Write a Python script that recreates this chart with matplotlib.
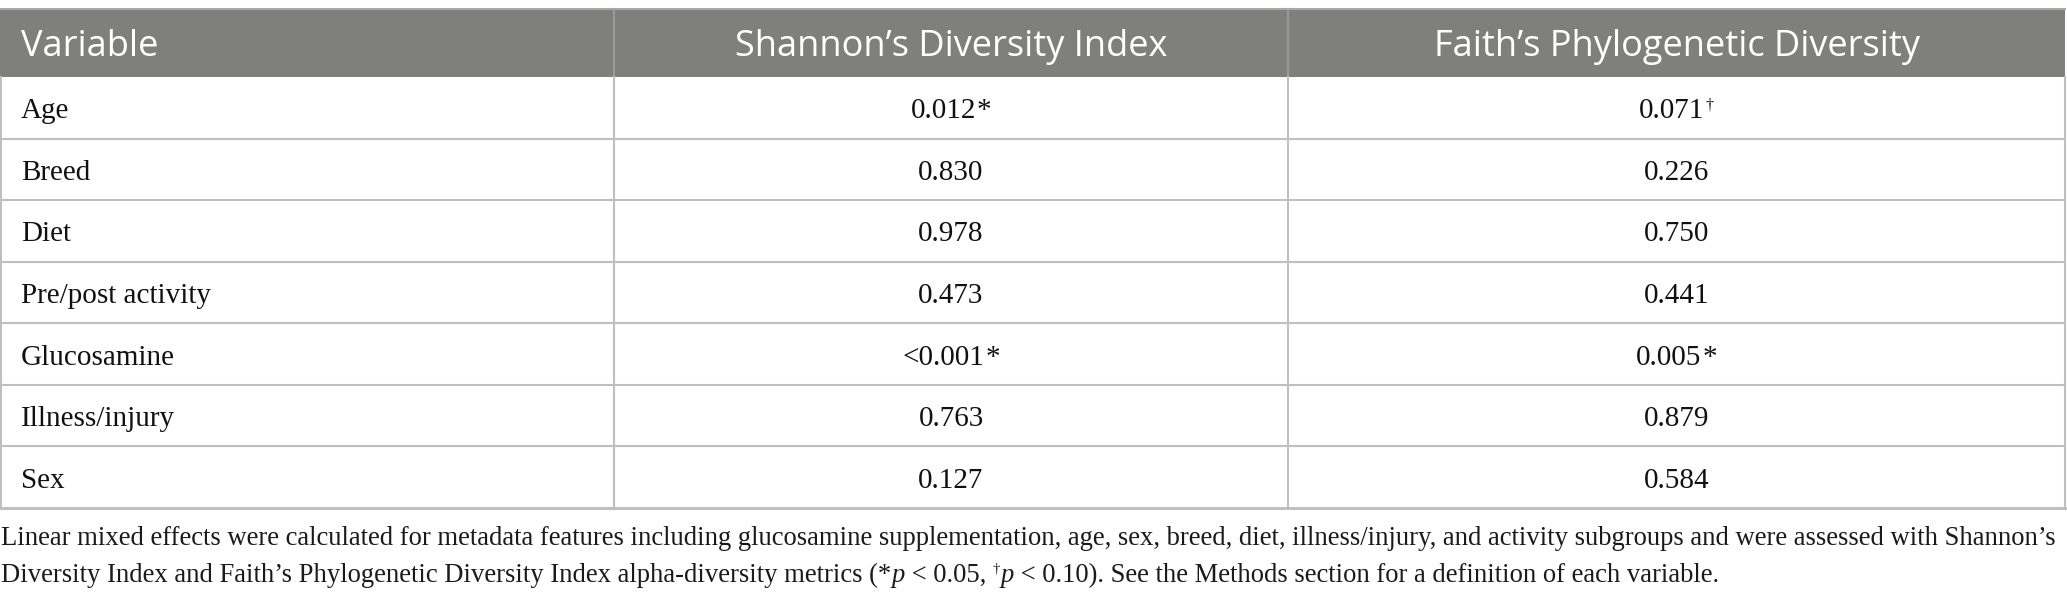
import matplotlib
matplotlib.use("Agg")
import matplotlib.pyplot as plt
from matplotlib.patches import Rectangle

# ---- data ----
headers = ["Variable", "Shannon\u2019s Diversity Index", "Faith\u2019s Phylogenetic Diversity"]
variables = ["Age", "Breed", "Diet", "Pre/post activity", "Glucosamine", "Illness/injury", "Sex"]
shannon = ["0.012", "0.830", "0.978", "0.473", "<0.001", "0.763", "0.127"]
shannon_mark = ["*", "", "", "", "*", "", ""]
faith = ["0.071", "0.226", "0.750", "0.441", "0.005", "0.879", "0.584"]
faith_mark = ["\u2020", "", "", "", "*", "", ""]
caption_line1 = ("Linear mixed effects were calculated for metadata features including glucosamine "
                 "supplementation, age, sex, breed, diet, illness/injury, and activity subgroups and "
                 "were assessed with Shannon\u2019s")
# (text, style, superscript)
caption_line2_parts = [
    ("Diversity Index and Faith\u2019s Phylogenetic Diversity Index alpha-diversity metrics (*", "normal", False),
    ("p", "italic", False),
    (" < 0.05, ", "normal", False),
    ("\u2020", "normal", True),
    ("p", "italic", False),
    (" < 0.10). See the Methods section for a definition of each variable.", "normal", False),
]

W, H = 2067, 604
fig = plt.figure(figsize=(W / 100, H / 100), dpi=100)
ax = fig.add_axes([0, 0, 1, 1])
ax.set_xlim(0, W)
ax.set_ylim(H, 0)
ax.axis("off")

col_x = [0, 614, 1288, 2065]
header_top, header_bot = 9, 77
n = len(variables)
row_h = (508 - 77) / n
grid_c = "#bfbfbf"
head_c = "#7f807e"
txt_c = "#111111"
serif = "Liberation Serif"
sans = "Open Sans"
cell_fs = 21
head_fs = 26

fig.canvas.draw()
renderer = fig.canvas.get_renderer()

def width_px(t):
    return t.get_window_extent(renderer).width

ax.add_patch(Rectangle((col_x[0], header_top), col_x[-1] - col_x[0], header_bot - header_top,
                       facecolor=head_c, edgecolor="none", zorder=1))
for x in col_x[1:-1]:
    ax.plot([x, x], [header_top, header_bot], color="#9a9a9a", lw=1.5, zorder=2)
ax.plot([col_x[0], col_x[-1]], [header_top, header_top], color="#a8a8a8", lw=1.5, zorder=2)

hbase = 56
ax.text(21, hbase, headers[0], ha="left", va="baseline", color="white", fontsize=head_fs, family=sans, zorder=3)
ax.text((col_x[1] + col_x[2]) / 2, hbase, headers[1], ha="center", va="baseline", color="white",
        fontsize=head_fs, family=sans, zorder=3)
ax.text((col_x[2] + col_x[3]) / 2, hbase, headers[2], ha="center", va="baseline", color="white",
        fontsize=head_fs, family=sans, zorder=3)

bottom = header_bot + n * row_h
for i in range(1, n + 1):
    y = header_bot + i * row_h
    ax.plot([col_x[0], col_x[-1]], [y, y], color=grid_c, lw=1.5 if i < n else 2.2, zorder=2)
for x in [col_x[0] + 0.8, col_x[1], col_x[2], col_x[-1]]:
    ax.plot([x, x], [header_bot, bottom], color=grid_c, lw=1.5, zorder=2)

def value_with_mark(xc, yb, val, mark):
    t = ax.text(0, yb, val, ha="left", va="baseline", fontsize=cell_fs, family=serif, color=txt_c, zorder=3)
    w = width_px(t)
    if mark == "*":
        m = ax.text(0, yb, mark, ha="left", va="baseline", fontsize=cell_fs, family=serif, color=txt_c, zorder=3)
        my = yb
    elif mark:
        m = ax.text(0, yb - 9, mark, ha="left", va="baseline", fontsize=cell_fs * 0.55, family=serif,
                    color=txt_c, zorder=3)
    else:
        m = None
    mw = width_px(m) + 1 if m is not None else 0
    x0 = xc - (w + mw) / 2
    t.set_x(x0)
    if m is not None:
        m.set_x(x0 + w + 1)

for i in range(n):
    yb = header_bot + (i + 0.5) * row_h + 10.5
    ax.text(21, yb, variables[i], ha="left", va="baseline", fontsize=cell_fs, family=serif,
            color=txt_c, zorder=3)
    value_with_mark((col_x[1] + col_x[2]) / 2, yb, shannon[i], shannon_mark[i])
    value_with_mark((col_x[2] + col_x[3]) / 2, yb, faith[i], faith_mark[i])

# caption
cap_fs = 19
t1 = ax.text(1, 545, caption_line1, ha="left", va="baseline", fontsize=cap_fs, family=serif, color="#1a1a1a")
cap_fs = cap_fs * (2062 - 1) / width_px(t1)
t1.set_fontsize(cap_fs)

x = 1
base2 = 582
for txt, st, sup in caption_line2_parts:
    if sup:
        t = ax.text(x, base2 - 9, txt, ha="left", va="baseline", fontsize=cap_fs * 0.55,
                    family=serif, style=st, color="#1a1a1a")
    else:
        t = ax.text(x, base2, txt, ha="left", va="baseline", fontsize=cap_fs,
                    family=serif, style=st, color="#1a1a1a")
    x += width_px(t) + (1 if sup else 0)

fig.savefig("out.png", dpi=100, facecolor="white")
